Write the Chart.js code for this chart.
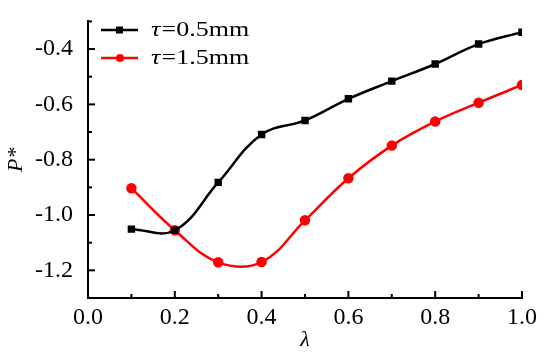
<!DOCTYPE html>
<html>
<head>
<meta charset="utf-8">
<script src="https://cdn.jsdelivr.net/npm/chart.js@4/dist/chart.umd.min.js"></script>
<style>
  html, body { margin: 0; padding: 0; background: #fff; }
  #wrap { width: 550px; height: 353px; position: relative; }
</style>
</head>
<body>
<div id="wrap"><canvas id="mycanvas"></canvas></div>
<script>
// data
var lambda = [0.1, 0.2, 0.3, 0.4, 0.5, 0.6, 0.7, 0.8, 0.9, 1.0];
var p_tau05 = [-1.051, -1.055, -0.882, -0.709, -0.658, -0.580, -0.516, -0.454, -0.382, -0.339];
var p_tau15 = [-0.903, -1.055, -1.171, -1.170, -1.019, -0.867, -0.749, -0.662, -0.594, -0.530];
var legendNames = ["=0.5mm", "=1.5mm"];

var serif = "'Liberation Serif', 'Times New Roman', serif";

function pts(xs, ys) {
    var out = [];
    for (var i in xs) {
        out.push({x: xs[i], y: ys[i]});
    }
    return out;
}

// inward ticks + legend inside the plot
var extras = {
    id: 'extras',
    afterDraw: function(chart) {
        var ctx = chart.ctx;
        var xs = chart.scales.x, ys = chart.scales.y;
        var a = chart.chartArea;
        ctx.save();
        ctx.strokeStyle = '#000';
        ctx.lineWidth = 2;
        for (var i = 0; i <= 10; i++) {
            var px = xs.getPixelForValue(i / 10);
            var len = (i % 2 === 0) ? 7 : 4;
            ctx.beginPath();
            ctx.moveTo(px, a.bottom);
            ctx.lineTo(px, a.bottom - len);
            ctx.stroke();
        }
        for (var j = 3; j <= 13; j++) {
            var py = ys.getPixelForValue(-j / 10);
            var len2 = (j % 2 === 0) ? 7 : 4;
            ctx.beginPath();
            ctx.moveTo(a.left, py);
            ctx.lineTo(a.left + len2, py);
            ctx.stroke();
        }

        // legend
        var rows = [
            {color: '#000', shape: 'rect', y: 30},
            {color: '#ff0000', shape: 'circle', y: 58}
        ];
        for (var k = 0; k < rows.length; k++) {
            var r = rows[k];
            ctx.strokeStyle = r.color;
            ctx.fillStyle = r.color;
            ctx.lineWidth = 2.5;
            ctx.beginPath();
            ctx.moveTo(101, r.y);
            ctx.lineTo(138, r.y);
            ctx.stroke();
            if (r.shape === 'rect') {
                ctx.fillRect(116, r.y - 3.5, 7, 7);
            } else {
                ctx.beginPath();
                ctx.arc(120, r.y, 4, 0, Math.PI * 2);
                ctx.fill();
            }
            // text is a bit wide in the original, stretch it
            ctx.save();
            ctx.translate(151, r.y + 1);
            ctx.scale(1.3, 1);
            ctx.fillStyle = '#000';
            ctx.textBaseline = 'middle';
            ctx.textAlign = 'left';
            ctx.font = "italic 20px " + serif;
            ctx.fillText('\u03c4', 0, 0);
            var w = ctx.measureText('\u03c4').width;
            ctx.font = "20px " + serif;
            ctx.fillText(legendNames[k], w + 1, 0);
            ctx.restore();
        }
        ctx.restore();
    }
};

var chartdata = {
    datasets: [
        {
            label: "tau=0.5mm",
            data: pts(lambda, p_tau05),
            borderColor: "#000",
            backgroundColor: "#000",
            borderWidth: 2.5,
            tension: 0.4,
            pointStyle: 'rect',
            pointRadius: 3.5,
            fill: false
        },
        {
            label: "tau=1.5mm",
            data: pts(lambda, p_tau15),
            borderColor: "#ff0000",
            backgroundColor: "#ff0000",
            borderWidth: 2.5,
            tension: 0.4,
            pointStyle: 'circle',
            pointRadius: 4,
            fill: false
        }
    ]
};

var ctx = document.getElementById('mycanvas');

var LineGraph = new Chart(ctx, {
    type: 'line',
    data: chartdata,
    plugins: [extras],
    options: {
        responsive: true,
        maintainAspectRatio: false,
        animation: false,
        layout: { padding: { top: 13, right: 28, left: 3, bottom: 0 } },
        plugins: {
            legend: { display: false },
            tooltip: { enabled: false }
        },
        scales: {
            x: {
                type: 'linear',
                min: 0,
                max: 1,
                afterFit: function(s) { s.height = 55; },
                grid: { display: false },
                border: { display: true, color: '#000', width: 2 },
                ticks: {
                    stepSize: 0.2,
                    padding: -3,
                    color: '#000',
                    font: { family: serif, size: 24 },
                    maxRotation: 0,
                    autoSkip: false,
                    callback: function(v) { return Number(v).toFixed(1); }
                },
                title: {
                    display: true,
                    text: '\u03bb',
                    color: '#000',
                    padding: { top: 3, bottom: 0 },
                    font: { family: serif, size: 22, style: 'italic' }
                }
            },
            y: {
                min: -1.3,
                max: -0.3,
                afterFit: function(s) { s.width = 85; },
                grid: { display: false },
                border: { display: true, color: '#000', width: 2 },
                ticks: {
                    stepSize: 0.1,
                    padding: 7,
                    color: '#000',
                    autoSkip: false,
                    font: { family: serif, size: 24 },
                    callback: function(v) {
                        var n = Math.round(v * 10);
                        if (n % 2 !== 0) return '';
                        return (n / 10).toFixed(1);
                    }
                },
                title: {
                    display: true,
                    text: 'P*',
                    color: '#000',
                    padding: { top: 0, bottom: 0 },
                    font: { family: serif, size: 22, style: 'italic' }
                }
            }
        }
    }
});
</script>
</body>
</html>
